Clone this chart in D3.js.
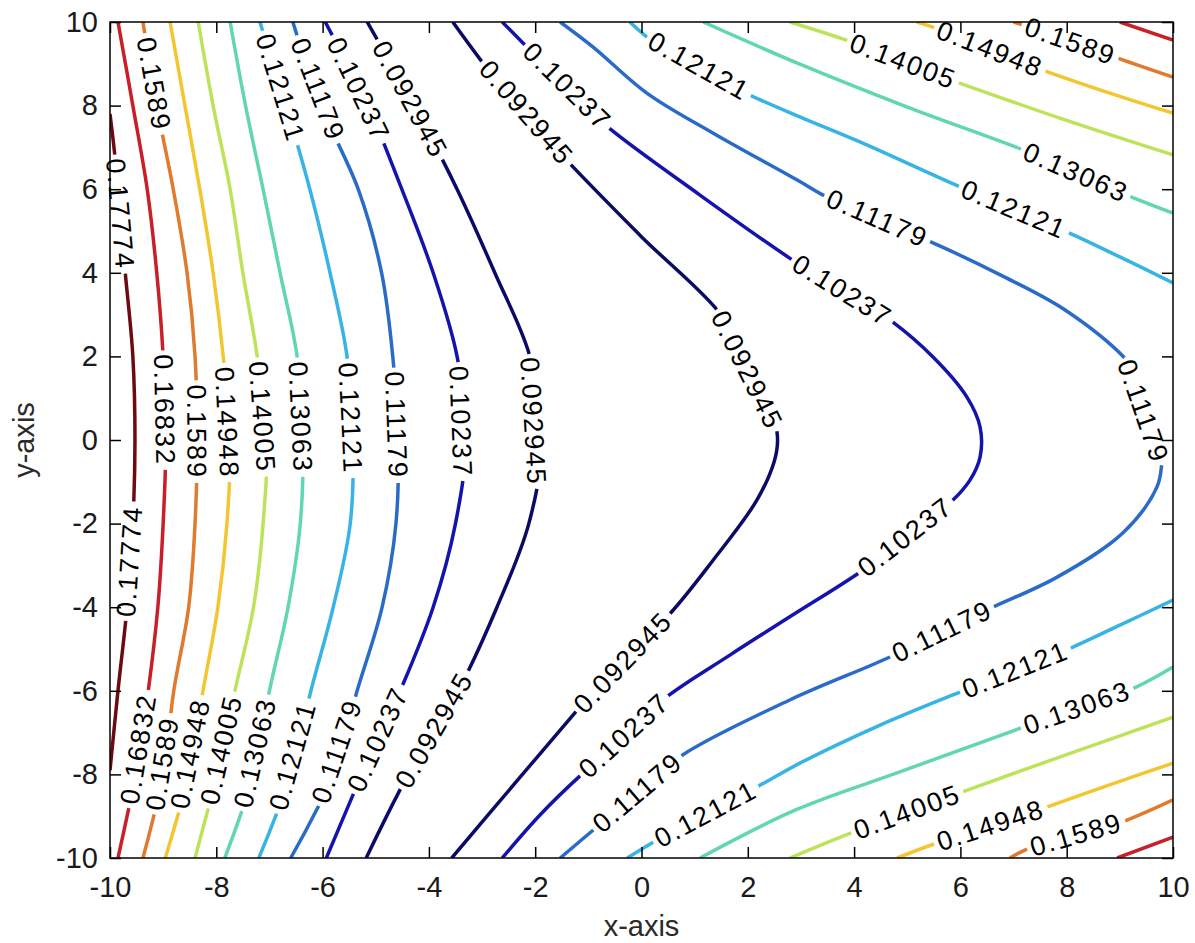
<!DOCTYPE html>
<html>
<head>
<meta charset="utf-8">
<script src="https://cdn.jsdelivr.net/npm/d3@7"></script>
<style>
  body { margin: 0; background: #fff; }
  svg text { font-family: "Liberation Sans", Arial, Helvetica, sans-serif; }
</style>
</head>
<body>
<svg id="chart" width="1195" height="943"></svg>
<script>
// ---- axis ticks ----
const xTicks = [-10, -8, -6, -4, -2, 0, 2, 4, 6, 8, 10];
const yTicks = [-10, -8, -6, -4, -2, 0, 2, 4, 6, 8, 10];

// ---- contour levels and their colours (jet-like ramp) ----
const levels = [0.092945, 0.10237, 0.11179, 0.12121, 0.13063, 0.14005, 0.14948, 0.1589, 0.16832, 0.17774];
const levelColors = ["#0b0b66", "#1414ac", "#2b6bc8", "#38b4e4", "#62d6b4", "#bce45a", "#f3c631", "#e07a2c", "#c81f29", "#6c0a12"];

// ---- contour traces, [x, y] ----
// arcs on the west side of the valley
const westArc092945 = [[-5.16,10],[-4.28,8],[-3.47,6],[-2.76,4],[-2.10,2],[-1.87,0],[-2.12,-2],[-2.72,-4],[-3.45,-6],[-4.39,-8],[-5.18,-10]];
const westArc10237  = [[-5.95,10],[-5.15,8],[-4.51,6],[-3.92,4],[-3.47,2],[-3.30,0],[-3.50,-2],[-3.92,-4],[-4.54,-6],[-5.26,-8],[-5.93,-10]];
const westArc11179  = [[-6.56,10],[-6.03,8],[-5.33,6],[-4.89,4],[-4.68,2],[-4.58,0],[-4.62,-2],[-4.88,-4],[-5.35,-6],[-5.80,-8],[-6.60,-10]];
const westArc12121  = [[-7.18,10],[-6.69,8],[-6.24,6],[-5.86,4],[-5.54,2],[-5.43,0],[-5.48,-2],[-5.80,-4],[-6.22,-6],[-6.60,-8],[-7.20,-10]];
const westArc13063  = [[-7.74,10],[-7.45,8],[-7.12,6],[-6.80,4],[-6.48,2],[-6.37,0],[-6.42,-2],[-6.65,-4],[-7.00,-6],[-7.30,-8],[-7.84,-10]];
const westArc14005  = [[-8.34,10],[-8.06,8],[-7.74,6],[-7.50,4],[-7.23,2],[-7.05,0],[-7.12,-2],[-7.30,-4],[-7.65,-6],[-7.99,-8],[-8.40,-10]];
const westArc14948  = [[-8.87,10],[-8.59,8],[-8.31,6],[-8.06,4],[-7.87,2],[-7.74,0],[-7.80,-2],[-7.97,-4],[-8.25,-6],[-8.52,-8],[-8.96,-10]];
const westArc1589   = [[-9.38,10],[-9.12,8],[-8.81,6],[-8.55,4],[-8.40,2],[-8.36,0],[-8.40,-2],[-8.52,-4],[-8.80,-6],[-9.00,-8],[-9.38,-10]];
const westArc16832  = [[-9.85,10],[-9.57,8],[-9.30,6],[-9.12,4],[-9.00,2],[-8.95,0],[-9.00,-2],[-9.10,-4],[-9.28,-6],[-9.52,-8],[-9.85,-10]];
const westArc17774  = [[-10,7.8],[-9.9,6.7],[-9.72,4.1],[-9.57,2],[-9.53,0],[-9.57,-2],[-9.68,-4],[-9.85,-6],[-10,-7.9]];

// arcs and branches on the east side
const eastArc092945 = [[-3.55,10],[-2.85,8.8],[-2.19,7.82],[-1.5,6.82],[-0.03,4.9],[1.53,2.94],[2.04,1.67],[2.5,0.45],[2.56,0],[2.5,-0.5],[2.17,-1.44],[1.35,-2.87],[0.48,-4.23],[-0.4,-5.26],[-1.16,-6.39],[-2.36,-8.18],[-3.57,-10]];
const eastArc10237  = [[-2.62,10],[-2.1,9.33],[-1.4,8.44],[-0.72,7.58],[1.1,5.86],[2.93,4.23],[3.77,3.56],[4.62,2.92],[5.48,1.99],[6.12,1.03],[6.37,0.31],[6.37,-0.41],[6.18,-0.96],[5.8,-1.51],[4.98,-2.32],[4.17,-3.11],[2.79,-4.23],[1.67,-5.14],[0.4,-6.22],[-0.31,-7.11],[-1.1,-7.97],[-1.91,-8.97],[-2.62,-10]];
const eastArc11179  = [[-1.53,10],[-0.91,9.4],[0.1,8.3],[1.35,7.34],[2.93,6.22],[3.49,5.81],[4.43,5.26],[5.37,4.78],[6.75,3.95],[7.97,3.11],[9.13,1.91],[9.62,1.0],[9.86,0.2],[9.8,-0.45],[9.7,-1.12],[9.06,-2.22],[7.82,-3.28],[6.61,-4.0],[5.62,-4.59],[4.68,-5.19],[2.79,-6.22],[0.72,-7.58],[-0.03,-8.42],[-0.84,-9.26],[-1.53,-10]];
const eastUpper12121 = [[-0.22,10],[0.22,9.52],[1.1,8.85],[2.04,8.25],[3.0,7.72],[4.11,7.13],[6.0,6.05],[7.0,5.52],[8.0,4.98],[9.0,4.38],[10,3.76]];
const eastLower12121 = [[-0.27,-10],[0.29,-9.57],[1.19,-8.9],[2.17,-8.3],[2.98,-7.73],[4.49,-6.82],[6.09,-5.98],[7.05,-5.5],[8.0,-5.02],[9.0,-4.43],[10,-3.83]];
const eastUpper13063 = [[1.16,10],[2.98,8.99],[4.99,7.97],[7.18,6.94],[8.16,6.41],[9.13,5.86],[10,5.43]];
const eastLower13063 = [[1.1,-10],[2.9,-8.85],[4.86,-7.94],[7.18,-6.87],[8.19,-6.39],[9.19,-5.98],[10,-5.43]];
const eastUpper14005 = [[2.79,10],[3.89,9.55],[4.9,9.04],[5.94,8.56],[7.87,7.7],[10,6.82]];
const eastLower14005 = [[2.79,-10],[3.98,-9.38],[4.99,-8.9],[5.99,-8.44],[7.97,-7.54],[10,-6.63]];
const eastUpper14948 = [[5.18,10],[5.52,9.86],[6.56,9.33],[7.55,8.85],[8.81,8.3],[10,7.82]];
const eastLower14948 = [[4.81,-10],[5.56,-9.64],[6.59,-9.23],[7.63,-8.78],[8.81,-8.25],[10,-7.73]];
const eastUpper1589  = [[7.0,10],[8.06,9.57],[8.95,9.14],[10,8.68]];
const eastLower1589  = [[6.93,-10],[7.31,-9.76],[8.19,-9.45],[9.0,-9.16],[10,-8.61]];
const eastUpper16832 = [[9.0,10],[10,9.57]];
const eastLower16832 = [[8.95,-10],[10,-9.5]];

const contourLines = [
  [0.092945, westArc092945], [0.10237, westArc10237], [0.11179, westArc11179],
  [0.12121, westArc12121], [0.13063, westArc13063], [0.14005, westArc14005],
  [0.14948, westArc14948], [0.1589, westArc1589], [0.16832, westArc16832],
  [0.17774, westArc17774],
  [0.092945, eastArc092945], [0.10237, eastArc10237], [0.11179, eastArc11179],
  [0.12121, eastUpper12121], [0.12121, eastLower12121],
  [0.13063, eastUpper13063], [0.13063, eastLower13063],
  [0.14005, eastUpper14005], [0.14005, eastLower14005],
  [0.14948, eastUpper14948], [0.14948, eastLower14948],
  [0.1589, eastUpper1589], [0.1589, eastLower1589],
  [0.16832, eastUpper16832], [0.16832, eastLower16832]
];

// inline level labels: [level, x, y] near where each sits on its line
const contourLabels = [
  [0.1589, -9.2, 8.5], [0.12121, -6.9, 8.4], [0.11179, -6.2, 8.35], [0.10237, -5.45, 8.3], [0.092945, -4.45, 8.1],
  [0.17774, -9.8, 5.4],
  [0.16832, -8.95, 0.7], [0.1589, -8.38, 0.2], [0.14948, -7.8, 0.4], [0.14005, -7.1, 0.55], [0.13063, -6.4, 0.55],
  [0.12121, -5.5, 0.5], [0.11179, -4.6, 0.35], [0.10237, -3.35, 0.45], [0.092945, -1.95, 0.45],
  [0.17774, -9.6, -2.9],
  [0.16832, -9.42, -7.39], [0.1589, -8.87, -7.78], [0.14948, -8.34, -7.54], [0.14005, -7.8, -7.46], [0.13063, -7.22, -7.49],
  [0.12121, -6.46, -7.58], [0.11179, -5.73, -7.46], [0.10237, -4.83, -7.25], [0.092945, -3.89, -6.96],
  [0.092945, -2.19, 7.82], [0.10237, -1.4, 8.44], [0.12121, 1.06, 8.9], [0.14005, 4.9, 8.97], [0.14948, 6.56, 9.33],
  [0.1589, 8.06, 9.52], [0.13063, 8.16, 6.41], [0.12121, 6.99, 5.5], [0.11179, 4.43, 5.26], [0.10237, 3.77, 3.56],
  [0.092945, 2.0, 1.67], [0.11179, 9.7, 0.8], [0.10237, 4.96, -2.32], [0.11179, 5.65, -4.59], [0.092945, -0.37, -5.31],
  [0.10237, -0.31, -7.11], [0.12121, 7.05, -5.55], [0.13063, 8.19, -6.41], [0.11179, -0.03, -8.49], [0.12121, 1.19, -8.9],
  [0.14005, 4.99, -8.9], [0.14948, 6.59, -9.28], [0.1589, 8.19, -9.52]
];

// ---- layout ----
const plot = { left: 110, top: 22, right: 1173, bottom: 858 };
const svg = d3.select("#chart");
const x = d3.scaleLinear().domain([-10, 10]).range([plot.left, plot.right]);
const y = d3.scaleLinear().domain([-10, 10]).range([plot.bottom, plot.top]);
const colorOf = d3.scaleOrdinal().domain(levels).range(levelColors);

svg.append("rect").attr("width", 1195).attr("height", 943).attr("fill", "#fff");

svg.append("defs").append("clipPath").attr("id", "plotClip")
  .append("rect")
  .attr("x", plot.left).attr("y", plot.top)
  .attr("width", plot.right - plot.left).attr("height", plot.bottom - plot.top);

const lineGen = d3.line()
  .x(d => x(d[0])).y(d => y(d[1]))
  .curve(d3.curveCatmullRom.alpha(0.5));

// contour lines
const lineLayer = svg.append("g").attr("clip-path", "url(#plotClip)");
const traces = contourLines.map(([level, pts]) => {
  const el = lineLayer.append("path")
    .attr("d", lineGen(pts))
    .attr("fill", "none")
    .attr("stroke", colorOf(level))
    .attr("stroke-width", 3.5)
    .attr("stroke-linejoin", "round")
    .node();
  const total = el.getTotalLength();
  const samples = d3.range(0, total, 1.5).concat([total]).map(L => {
    const p = el.getPointAtLength(L);
    return { L, x: p.x, y: p.y };
  });
  return { level, el, total, samples, gaps: [] };
});

// ---- frame and ticks ----
const fmt = d => String(d);
const axisStyle = g => {
  g.select(".domain").remove();
  g.selectAll(".tick line").attr("stroke", "#000").attr("stroke-width", 1.5);
  g.selectAll(".tick text").attr("fill", "#1a1a1a").style("font-size", "29px");
};
svg.append("g").attr("transform", `translate(0,${plot.bottom})`)
  .call(d3.axisBottom(x).tickValues(xTicks).tickFormat(fmt).tickSizeInner(-11).tickSizeOuter(0).tickPadding(18))
  .call(axisStyle);
svg.append("g").attr("transform", `translate(${plot.left},0)`)
  .call(d3.axisLeft(y).tickValues(yTicks).tickFormat(fmt).tickSizeInner(-11).tickSizeOuter(0).tickPadding(12))
  .call(axisStyle);
svg.append("g").attr("transform", `translate(0,${plot.top})`)
  .call(d3.axisTop(x).tickValues(xTicks).tickFormat("").tickSizeInner(-11).tickSizeOuter(0))
  .call(axisStyle);
svg.append("g").attr("transform", `translate(${plot.right},0)`)
  .call(d3.axisRight(y).tickValues(yTicks).tickFormat("").tickSizeInner(-11).tickSizeOuter(0))
  .call(axisStyle);

svg.append("rect")
  .attr("x", plot.left).attr("y", plot.top)
  .attr("width", plot.right - plot.left).attr("height", plot.bottom - plot.top)
  .attr("fill", "none").attr("stroke", "#000").attr("stroke-width", 1.5);

svg.append("text")
  .attr("x", (plot.left + plot.right) / 2).attr("y", 936)
  .attr("text-anchor", "middle").attr("fill", "#2a2a2a").style("font-size", "29px")
  .text("x-axis");
svg.append("text")
  .attr("transform", `translate(34,${(plot.top + plot.bottom) / 2}) rotate(-90)`)
  .attr("text-anchor", "middle").attr("fill", "#2a2a2a").style("font-size", "29px")
  .text("y-axis");

// ---- inline labels: text follows the chord of its line, line broken under it ----
const labelLayer = svg.append("g");
contourLabels.forEach(([level, lx, ly]) => {
  const px = x(lx), py = y(ly);
  let best = null, bestD = Infinity;
  traces.filter(t => t.level === level).forEach(t => {
    t.samples.forEach(s => {
      const d = (s.x - px) ** 2 + (s.y - py) ** 2;
      if (d < bestD) { bestD = d; best = { t, L: s.L }; }
    });
  });
  if (!best) return;
  const t = best.t;
  const text = labelLayer.append("text")
    .attr("text-anchor", "middle")
    .attr("dominant-baseline", "central")
    .attr("fill", "#000")
    .style("font-size", "27px")
    .style("letter-spacing", "2px")
    .text(String(level));
  const w = text.node().getComputedTextLength();
  const need = w + 6;
  let d = need / 2, L1, L2, a, b;
  for (let i = 0; i < 400; i++) {
    L1 = Math.max(0, best.L - d);
    L2 = Math.min(t.total, best.L + d);
    a = t.el.getPointAtLength(L1);
    b = t.el.getPointAtLength(L2);
    if (Math.hypot(b.x - a.x, b.y - a.y) >= need || (L1 === 0 && L2 === t.total)) break;
    d += 1;
  }
  let ang = Math.atan2(b.y - a.y, b.x - a.x) * 180 / Math.PI;
  if (ang > 90) ang -= 180;
  if (ang <= -90) ang += 180;
  const cx = (a.x + b.x) / 2, cy = (a.y + b.y) / 2;
  text.attr("transform", `translate(${cx},${cy}) rotate(${ang})`);
  t.gaps.push([L1, L2]);
});

// break each line where its labels sit
traces.forEach(t => {
  if (!t.gaps.length) return;
  t.gaps.sort((p, q) => p[0] - q[0]);
  const dash = [];
  let pos = 0;
  t.gaps.forEach(([g0, g1]) => {
    dash.push(Math.max(0, g0 - pos), Math.max(0, g1 - Math.max(g0, pos)));
    pos = Math.max(pos, g1);
  });
  dash.push(Math.max(0, t.total - pos) + 1, t.total + 10);
  d3.select(t.el).attr("stroke-dasharray", dash.join(" "));
});
</script>
</body>
</html>
